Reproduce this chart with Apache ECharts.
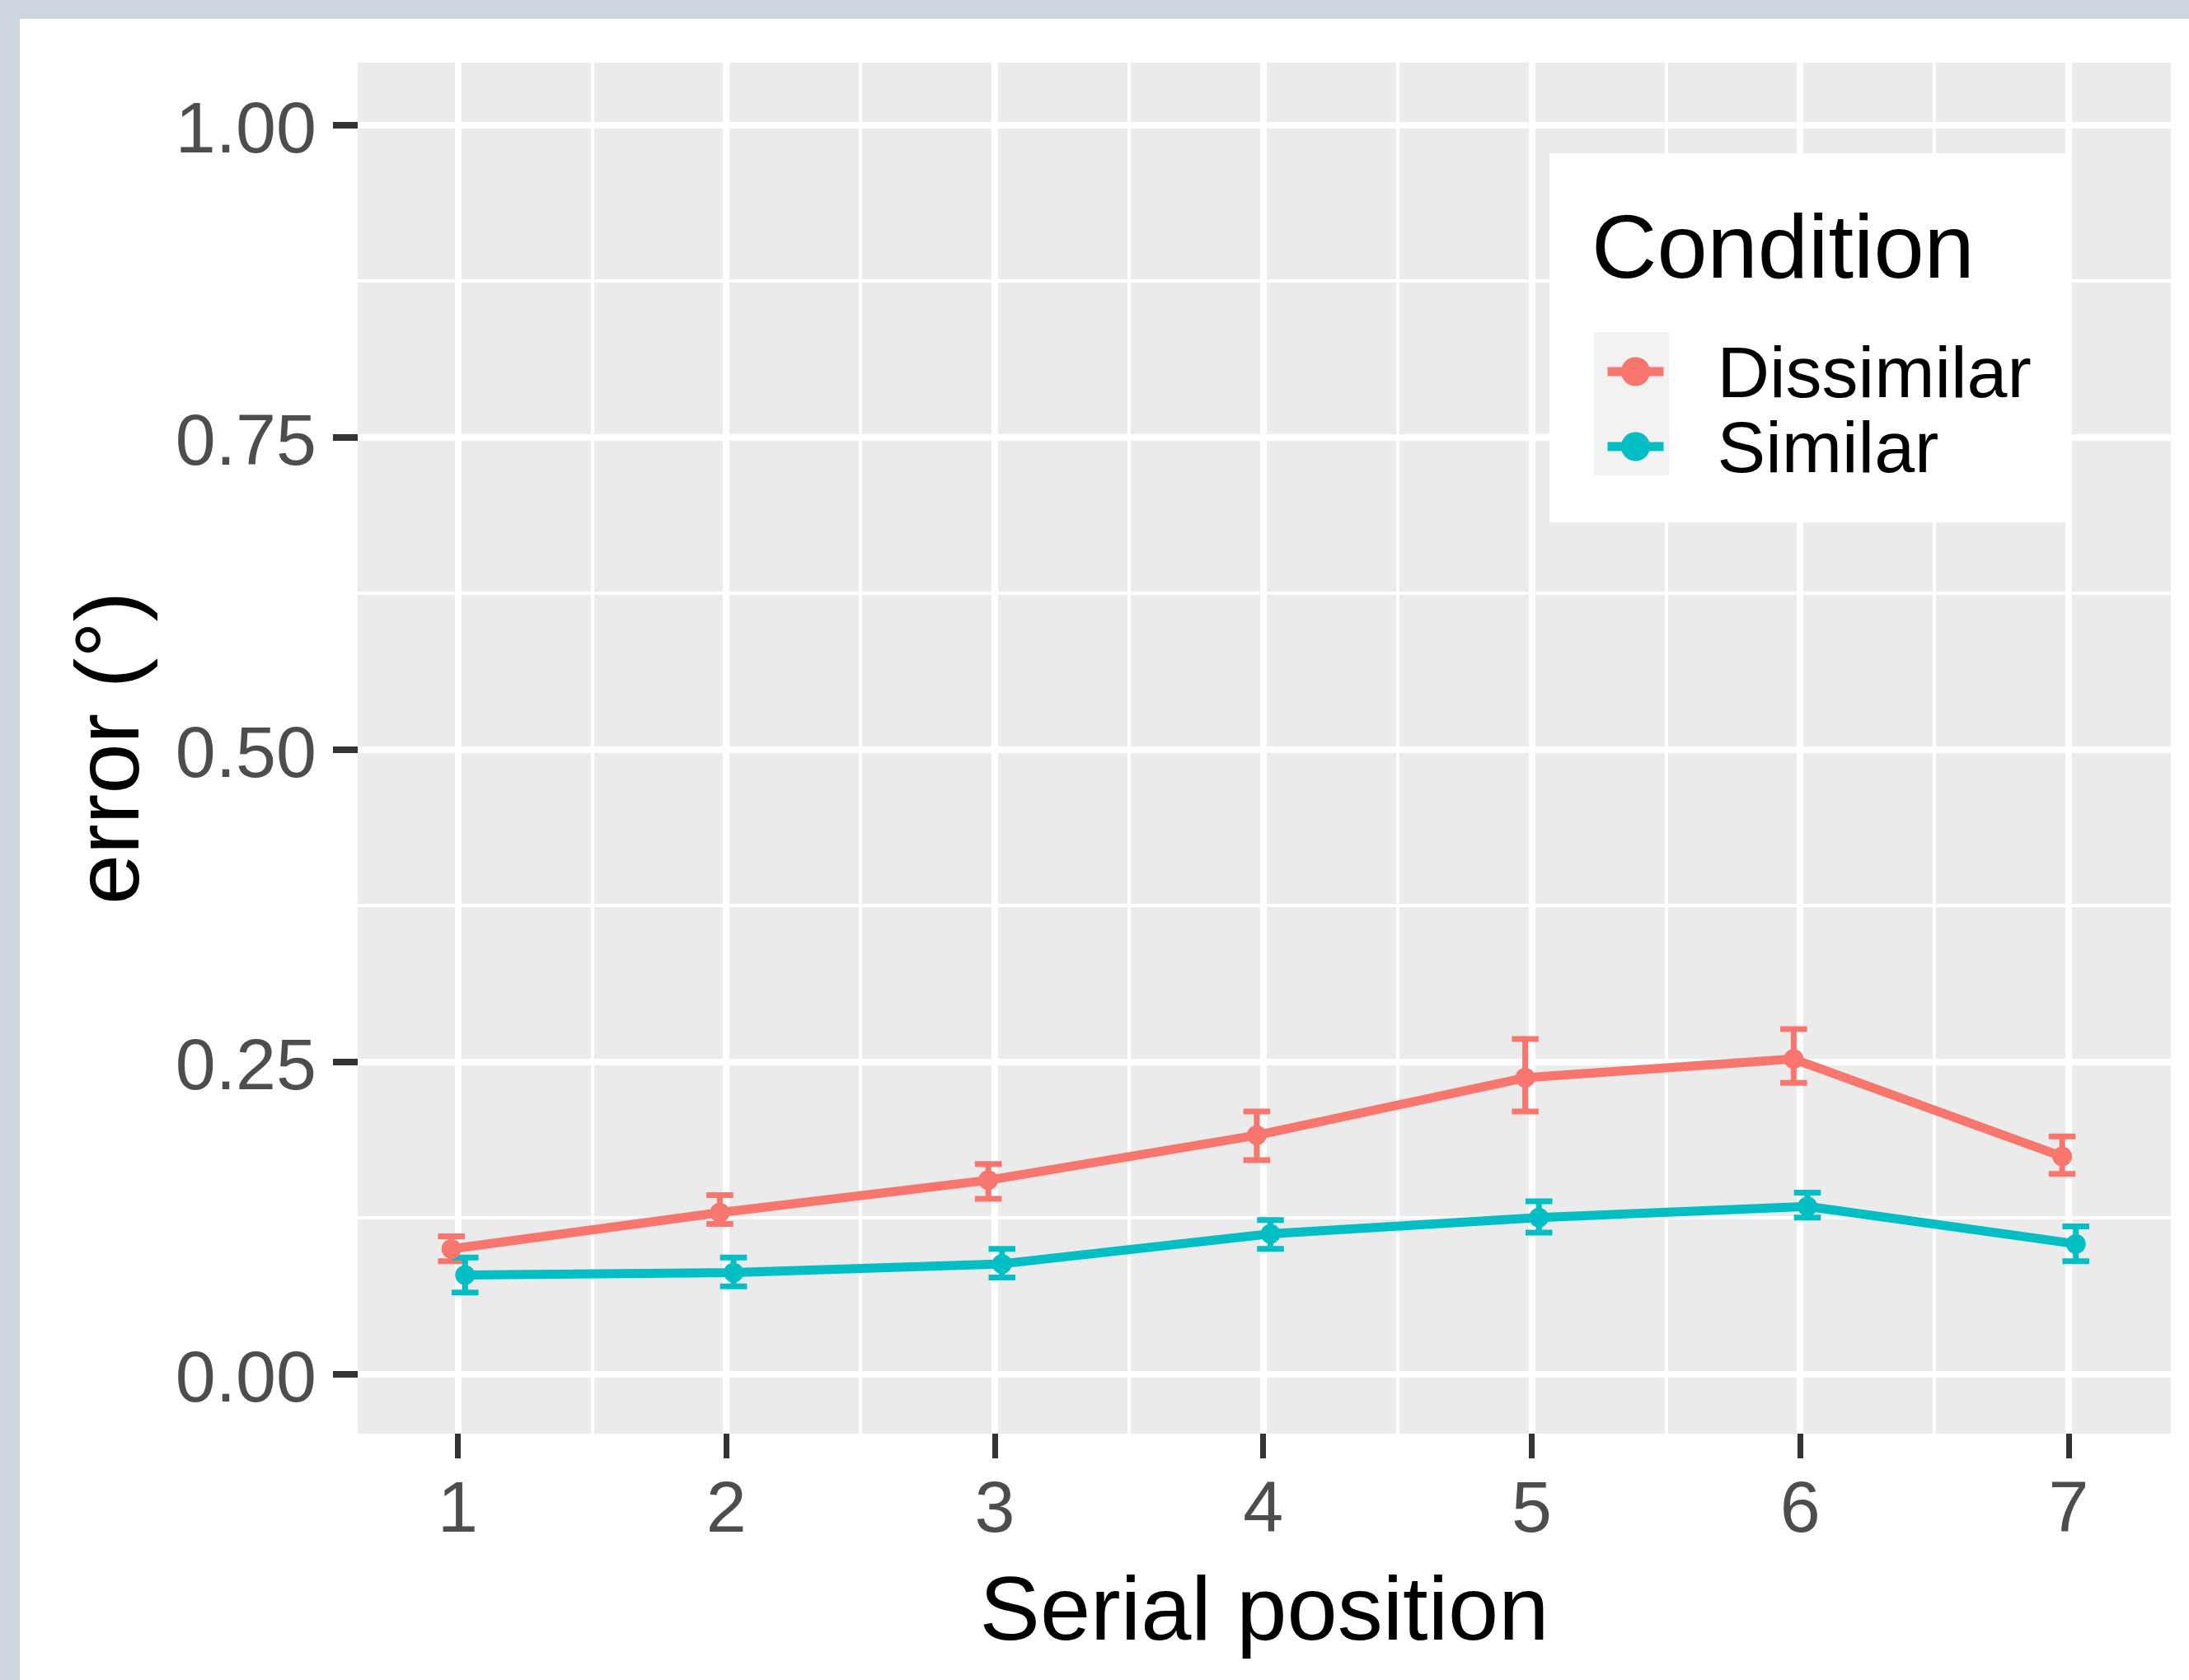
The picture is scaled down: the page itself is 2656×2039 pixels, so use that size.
<!DOCTYPE html>
<html>
<head>
<meta charset="utf-8">
<title>error by serial position</title>
<script src="https://cdn.jsdelivr.net/npm/echarts@6.0.0/dist/echarts.min.js"></script>
<style>
    html, body { margin: 0; padding: 0; background: #fff; }
    #cn { position: absolute; left: 0; top: 0; width: 2656px; height: 2039px; }
    .band { position: absolute; background: #CED6DF; }
</style>
</head>
<body>
<div id="cn"></div>
<div class="band" style="left:0;top:0;width:2656px;height:23px"></div>
<div class="band" style="left:0;top:0;width:24px;height:2039px"></div>
<script>
'use strict';

// values
const serial = [1, 2, 3, 4, 5, 6, 7];
const dissimilarMean = [0.100, 0.129, 0.155, 0.191, 0.237, 0.252, 0.174];
const dissimilarLow = [0.090, 0.120, 0.140, 0.171, 0.210, 0.233, 0.160];
const dissimilarHigh = [0.110, 0.143, 0.168, 0.210, 0.268, 0.276, 0.190];
const similarMean = [0.079, 0.081, 0.088, 0.112, 0.125, 0.134, 0.104];
const similarLow = [0.065, 0.070, 0.077, 0.100, 0.113, 0.125, 0.090];
const similarHigh = [0.093, 0.093, 0.100, 0.123, 0.138, 0.145, 0.118];

const yTicks = [0, 0.25, 0.5, 0.75, 1];
const yMinor = [0.125, 0.375, 0.625, 0.875];
const xMinor = [1.5, 2.5, 3.5, 4.5, 5.5, 6.5];

const RED = '#F8766D';
const TEAL = '#00BFC4';
const FONT = '"Liberation Sans", Arial, sans-serif';

// position_dodge-like shift, errorbar width in x units
const DODGE = { Dissimilar: -0.024, Similar: 0.027 };
const CAP = 0.1;

const toLine = (means, shift) => serial.map((s, i) => [s + shift, means[i]]);
const toBars = (low, high, shift) => serial.map((s, i) => [s + shift, low[i], high[i]]);

const errorBar = (color) => (params, api) => {
    const x = api.value(0);
    const lo = api.coord([x, api.value(1)]);
    const hi = api.coord([x, api.value(2)]);
    const half = api.size([CAP, 0])[0] / 2;
    const style = { stroke: color, lineWidth: 7, fill: null };
    return {
        type: 'group',
        children: [
            { type: 'line', shape: { x1: lo[0], y1: lo[1], x2: hi[0], y2: hi[1] }, style: style },
            { type: 'line', shape: { x1: lo[0] - half, y1: lo[1], x2: lo[0] + half, y2: lo[1] }, style: style },
            { type: 'line', shape: { x1: hi[0] - half, y1: hi[1], x2: hi[0] + half, y2: hi[1] }, style: style }
        ]
    };
};

const lineSeries = (name, data, color) => ({
    name: name,
    type: 'line',
    data: data,
    symbol: 'circle',
    symbolSize: 24,
    showSymbol: true,
    itemStyle: { color: color },
    lineStyle: { color: color, width: 11 },
    z: 2
});

const chart = echarts.init(document.getElementById('cn'));

const option = {
    animation: false,
    backgroundColor: 'transparent',
    textStyle: { fontFamily: FONT },
    grid: {
        left: 434,
        top: 76,
        width: 2200,
        height: 1664,
        show: true,
        backgroundColor: '#EBEBEB',
        borderWidth: 0,
        outerBoundsMode: 'none',
        containLabel: false
    },
    title: {
        text: 'Condition',
        left: 1931,
        top: 252,
        padding: 0,
        z: 6,
        textStyle: {
            fontFamily: FONT,
            fontSize: 110,
            lineHeight: 110,
            fontWeight: 'normal',
            color: '#000'
        }
    },
    legend: {
        data: ['Dissimilar', 'Similar'],
        orient: 'vertical',
        left: 1945,
        top: 411,
        padding: 0,
        itemGap: 0,
        itemWidth: 68,
        itemHeight: 44,
        selectedMode: false,
        z: 6,
        lineStyle: { width: 11 },
        formatter: name => '{a|' + name + '}',
        textStyle: {
            fontFamily: FONT,
            fontSize: 88,
            lineHeight: 80,
            color: '#000',
            padding: [0, 0, 0, 60],
            rich: {
                a: {
                    fontFamily: FONT,
                    fontSize: 88,
                    height: 66,
                    lineHeight: 80,
                    color: '#000',
                    padding: [14, 0, 0, 0]
                }
            }
        }
    },
    graphic: [
        {
            type: 'rect',
            z: 4,
            shape: { x: 1880, y: 186, width: 628, height: 448 },
            style: { fill: '#fff' }
        },
        {
            type: 'rect',
            z: 5,
            shape: { x: 1934, y: 403, width: 91, height: 174 },
            style: { fill: '#F2F2F2' }
        }
    ],
    xAxis: [
        {
            type: 'value',
            min: 0.627,
            max: 7.381,
            position: 'bottom',
            name: 'Serial position',
            nameLocation: 'middle',
            nameGap: 165,
            nameTextStyle: { fontFamily: FONT, fontSize: 110, lineHeight: 110, color: '#000' },
            axisLine: { show: false, onZero: false },
            axisTick: {
                show: true,
                customValues: serial,
                length: 30,
                lineStyle: { color: '#333333', width: 7 }
            },
            axisLabel: {
                customValues: serial,
                margin: 51,
                fontFamily: FONT,
                fontSize: 88,
                lineHeight: 88,
                color: '#4D4D4D'
            },
            splitLine: { show: true, lineStyle: { color: '#fff', width: 8 } },
            minorSplitLine: { show: false }
        },
        {
            type: 'value',
            min: 0.627,
            max: 7.381,
            position: 'top',
            axisLine: { show: false, onZero: false },
            axisTick: { show: false, customValues: xMinor },
            axisLabel: { show: false, customValues: xMinor },
            splitLine: { show: true, lineStyle: { color: '#fff', width: 4 } }
        }
    ],
    yAxis: [
        {
            type: 'value',
            min: -0.048,
            max: 1.05,
            position: 'left',
            name: 'error (°)',
            nameLocation: 'middle',
            nameRotate: 90,
            nameGap: 241,
            nameTextStyle: { fontFamily: FONT, fontSize: 110, lineHeight: 110, color: '#000' },
            axisLine: { show: false, onZero: false },
            axisTick: {
                show: true,
                customValues: yTicks,
                length: 30,
                lineStyle: { color: '#333333', width: 8 }
            },
            axisLabel: {
                customValues: yTicks,
                formatter: v => v.toFixed(2),
                margin: 50,
                verticalAlign: 'top',
                fontFamily: FONT,
                fontSize: 88,
                lineHeight: 18,
                color: '#4D4D4D'
            },
            splitLine: { show: true, lineStyle: { color: '#fff', width: 8 } }
        },
        {
            type: 'value',
            min: -0.048,
            max: 1.05,
            position: 'right',
            axisLine: { show: false, onZero: false },
            axisTick: { show: false, customValues: yMinor },
            axisLabel: { show: false, customValues: yMinor },
            splitLine: { show: true, lineStyle: { color: '#fff', width: 4 } }
        }
    ],
    series: [
        lineSeries('Dissimilar', toLine(dissimilarMean, DODGE.Dissimilar), RED),
        {
            name: 'Dissimilar-err',
            type: 'custom',
            renderItem: errorBar(RED),
            data: toBars(dissimilarLow, dissimilarHigh, DODGE.Dissimilar),
            z: 2
        },
        lineSeries('Similar', toLine(similarMean, DODGE.Similar), TEAL),
        {
            name: 'Similar-err',
            type: 'custom',
            renderItem: errorBar(TEAL),
            data: toBars(similarLow, similarHigh, DODGE.Similar),
            z: 2
        }
    ]
};

chart.setOption(option);
</script>
</body>
</html>
